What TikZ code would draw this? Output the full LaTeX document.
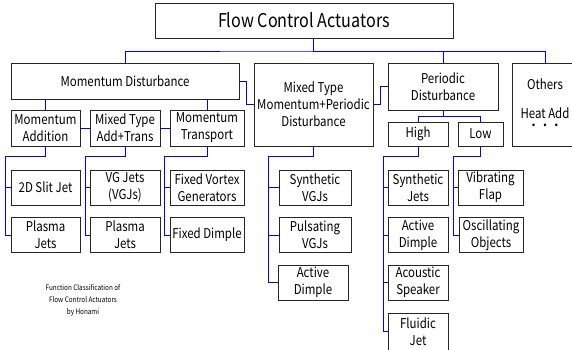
\documentclass[tikz,border=0pt]{standalone}
\usepackage{fontspec}
\setmainfont[FakeStretch=0.85]{Noto Sans CJK JP}
\usetikzlibrary{positioning}

\begin{document}
\begin{tikzpicture}[x=1pt, y=-1pt,
    box/.style={draw=black!85, line width=0.8pt, align=center, inner sep=1pt,
        font=\fontsize{13.5}{17}\selectfont},
    leaf/.style={box, minimum width=70pt, minimum height=35pt},
    conn/.style={blue, line width=0.8pt}]
    % Frame
    \useasboundingbox (0,0) rectangle (572,350);
    \clip (0,0) rectangle (572,350);

    % Top
    \node[box, minimum width=298pt, minimum height=35pt, font=\fontsize{19}{20}\selectfont] (title) at (304,20.5) {Flow Control Actuators};

    % Main classes
    \node[box, minimum width=228pt, minimum height=36pt] (md) at (125,81) {Momentum Disturbance};
    \node[box, minimum width=119pt, minimum height=83pt] (mix) at (313.5,104.5) {Mixed Type\\Momentum+Periodic\\Disturbance};
    \node[box, minimum width=110pt, minimum height=47pt] (pd) at (443,86.5) {Periodic\\Disturbance};
    \node[box, minimum width=66pt, minimum height=83pt] (oth) at (545,104.5) {Others\\[12pt]Heat Add\\[-5pt]・・・};

    % Momentum sub-classes
    \node[box, minimum width=69pt, minimum height=36pt] (ma) at (45.5,128) {Momentum\\Addition};
    \node[box, minimum width=70pt, minimum height=36pt] (mat) at (125,128) {Mixed Type\\Add+Trans};
    \node[box, minimum width=74pt, minimum height=36pt] (mt) at (207,128) {Momentum\\Transport};

    % Periodic sub-classes
    \node[box, minimum width=60pt, minimum height=24pt] (high) at (418,134) {High};
    \node[box, minimum width=45pt, minimum height=24pt] (low) at (480.5,134) {Low};

    % Actuators
    \node[leaf, minimum width=69pt] (slit) at (45.5,187.5) {2D Slit Jet};
    \node[leaf, minimum width=69pt] (pjA) at (45.5,235) {Plasma\\Jets};
    \node[leaf] (vgj) at (125,187.5) {VG Jets\\(VGJs)};
    \node[leaf] (pjB) at (125,235) {Plasma\\Jets};
    \node[leaf, minimum width=74pt] (fvg) at (207,187.5) {Fixed Vortex\\Generators};
    \node[leaf, minimum width=74pt] (fdim) at (207,235) {Fixed Dimple};
    \node[leaf, minimum width=72pt] (svgj) at (315,187.5) {Synthetic\\VGJs};
    \node[leaf, minimum width=72pt] (pvgj) at (315,235) {Pulsating\\VGJs};
    \node[leaf] (adimA) at (313,282.5) {Active\\Dimple};
    \node[leaf, minimum width=60pt] (sjet) at (418,187.5) {Synthetic\\Jets};
    \node[leaf, minimum width=60pt] (adimB) at (418,235) {Active\\Dimple};
    \node[leaf, minimum width=60pt] (aspk) at (418,282.5) {Acoustic\\Speaker};
    \node[leaf, minimum width=60pt, minimum height=37pt] (fjet) at (418,331.5) {Fluidic\\Jet};
    \node[leaf, minimum width=65pt] (vflap) at (490.5,187.5) {Vibrating\\Flap};
    \node[leaf, minimum width=64pt] (oobj) at (491,235) {Oscillating\\Objects};

    % Caption
    \node[align=center, font=\fontsize{7.5}{12}\selectfont] (cap) at (83,300) {Function Classification of\\Flow Control Actuators\\by Honami};

    % Top level connectors
    \coordinate (bus) at (313,51);
    \draw[conn] (bus |- title.south) -- (bus);
    \draw[conn] (md.north) |- (bus) -| (oth.north);
    \draw[conn] (bus) -| (pd.north);
    \draw[conn] (md.east) -- ++(7,0) |- (mix.west);
    \draw[conn] (pd.west) -- ++(-7,0) |- (mix.east);

    % Second level connectors
    \draw[conn] (ma.north |- md.south) -- (ma.north);
    \draw[conn] (mt.north |- md.south) -- (mt.north);
    \draw[conn] (ma) -- (mat);
    \draw[conn] (mat) -- (mt);
    \draw[conn] (pd.south) -- ++(0,6) coordinate (pdj);
    \draw[conn] (high.north) |- (pdj) -| (low.north);

    % Spines to the actuators
    \draw[conn] (ma.south) -- ++(0,10) -| ([xshift=-5pt]pjA.west) -- (pjA.west);
    \draw[conn] (mat.south) -- ++(0,10) -| ([xshift=-4pt]pjB.west) -- (pjB.west);
    \draw[conn] (mt.south) -- ++(0,10) -| ([xshift=-5pt]fdim.west) -- (fdim.west);
    \draw[conn] (mix.south) -- ++(0,10) -| ([xshift=-9pt]adimA.west) -- (adimA.west);
    \draw[conn] (high.south) -- ++(0,10) -| ([xshift=-4pt]fjet.west) -- (fjet.west);
    \draw[conn] (low.south) -- ++(0,10) -| ([xshift=-5pt]oobj.west) -- (oobj.west);
    \foreach \leaf/\off in {slit/5, vgj/4, fvg/5, svgj/10, pvgj/10, sjet/4, adimB/4, aspk/4, vflap/5}
        \draw[conn] ([xshift=-\off pt]\leaf.west) -- (\leaf.west);
\end{tikzpicture}
\end{document}
